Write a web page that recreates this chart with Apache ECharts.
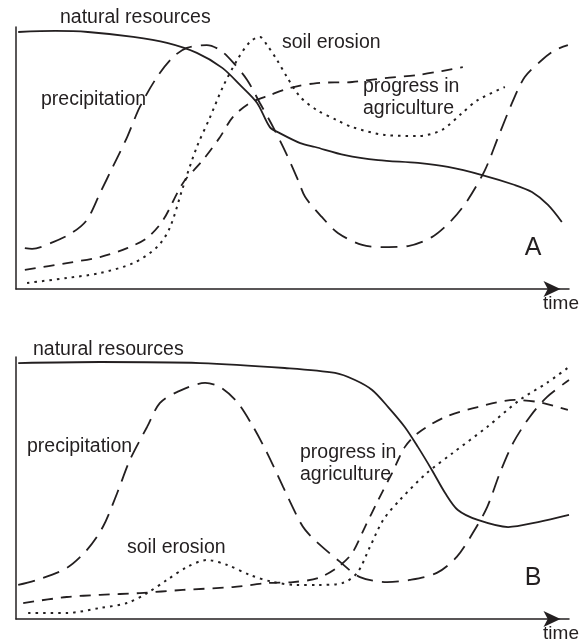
<!DOCTYPE html>
<html>
<head>
<meta charset="utf-8">
<script src="https://cdn.jsdelivr.net/npm/echarts@6/dist/echarts.min.js"></script>
<style>
html,body{margin:0;padding:0;background:#fff;}
#chart{width:585px;height:641px;}
</style>
</head>
<body>
<div id="chart"></div>
<script>
// ---- Data (time 0..100, level 0..100) ----
// Panel A
const aNaturalResources = [[0.4,98.1],[7.1,98.5],[13.0,98.1],[21.2,96.2],[27.3,93.9],[32.7,90.1],[37.3,84.4],[40.5,77.9],[43.6,71.0],[45.9,61.8],[47.7,59.5],[51.4,55.7],[54.1,54.2],[59.5,51.1],[65.5,49.2],[72.7,48.1],[78.1,46.6],[84.3,43.5],[90.2,39.7],[93.3,37.0],[96.2,32.1],[98.7,25.6]];
const aPrecipitation = [[1.6,15.6],[2.9,15.3],[6.7,17.9],[10.1,21.4],[12.8,26.3],[15.2,36.6],[17.5,46.6],[20.1,58.0],[22.4,69.5],[25.5,80.9],[28.4,88.5],[30.9,92.0],[34.5,93.1],[36.9,91.2],[39.2,86.6],[41.8,79.8],[44.1,71.0],[46.5,61.8],[49.0,51.1],[51.0,41.6],[52.3,35.1],[55.3,27.5],[58.2,21.4],[62.6,16.8],[66.7,16.0],[70.9,16.4],[75.2,19.8],[78.8,26.3],[81.7,34.0],[84.8,45.4],[87.2,58.0],[89.7,71.0],[92.0,80.9],[95.1,87.4],[97.5,91.2],[99.8,93.1]];
const aSoilErosion = [[2.0,2.3],[9.2,4.2],[15.2,6.1],[21.2,9.9],[25.5,16.0],[27.8,23.3],[30.2,38.9],[32.7,54.2],[35.1,65.6],[37.4,77.1],[40.0,87.4],[42.3,94.3],[44.1,96.2],[45.4,93.1],[47.2,87.4],[49.0,80.9],[51.4,73.3],[54.4,68.3],[58.0,64.5],[60.8,61.8],[66.7,58.8],[72.7,58.4],[77.0,60.7],[80.7,67.2],[83.5,72.1],[88.4,77.1]];
const aProgressAgriculture = [[1.6,7.3],[9.2,9.9],[15.2,12.2],[20.1,15.6],[23.7,19.5],[26.6,26.3],[30.2,40.5],[33.8,49.2],[36.9,58.0],[39.2,65.6],[42.3,71.0],[45.9,74.0],[49.5,76.7],[54.4,78.6],[60.8,79.0],[66.7,80.5],[72.7,81.7],[77.0,83.2],[80.8,84.7]];
// Panel B
const bNaturalResources = [[0.4,97.7],[15.2,98.1],[33.3,97.7],[48.6,95.8],[57.7,93.9],[61.3,91.2],[64.4,87.4],[67.3,80.9],[70.3,73.3],[72.7,65.6],[75.2,56.9],[77.6,48.1],[79.9,41.6],[83.5,37.8],[89.0,35.1],[94.4,37.0],[100,39.7]];
const bPrecipitation = [[0.4,13.0],[3.8,14.9],[9.2,19.5],[12.8,26.3],[15.7,35.1],[18.3,48.1],[20.6,60.7],[23.7,73.3],[26.0,82.4],[29.1,86.6],[34.2,90.1],[36.9,88.5],[40.0,82.8],[42.9,73.3],[45.4,63.4],[48.3,50.4],[51.0,38.5],[52.3,34.0],[54.4,29.4],[58.6,21.8],[62.2,16.0],[67.1,14.1],[71.2,14.9],[76.1,17.6],[79.7,23.7],[82.6,32.8],[85.2,42.7],[87.5,55.7],[89.9,67.2],[92.9,77.1],[96.0,84.7],[100,91.2]];
const bSoilErosion = [[2.2,2.3],[9.2,2.3],[15.2,4.2],[20.1,6.1],[23.7,9.9],[27.3,14.9],[30.9,19.8],[34.5,22.5],[38.2,20.6],[42.3,16.8],[46.5,14.1],[50.8,13.0],[54.6,13.0],[59.0,13.7],[61.7,17.6],[64.0,27.5],[66.4,37.8],[69.4,45.4],[74.3,55.7],[79.0,63.4],[85.2,73.3],[91.1,83.6],[96.0,90.1],[100,96.2]];
const bProgressAgriculture = [[1.3,6.1],[9.2,8.4],[15.2,9.2],[22.4,9.9],[30.2,11.1],[39.2,12.2],[45.4,13.7],[50.1,14.1],[54.6,15.6],[58.2,19.8],[60.8,25.2],[63.1,35.1],[65.5,45.4],[68.0,55.7],[70.3,65.6],[72.7,71.0],[77.6,77.1],[83.5,80.9],[90.2,83.6],[94.4,82.8],[99.8,79.8]];

// Labels
const seriesNames = ['natural resources','precipitation','soil erosion','progress in agriculture'];
const progressLines = ['progress in','agriculture'];
const panelLetters = ['A','B'];
const axisTitle = 'time';

const INK = '#231f20';
const FONT = '"Liberation Sans", Arial, Helvetica, sans-serif';
const styles = {
  'natural resources': {type:'solid', width:1.8},
  'precipitation': {type:[17,9], width:1.8},
  'soil erosion': {type:[2.5,5], width:2},
  'progress in agriculture': {type:[11,8], width:1.8}
};

const panels = [
  {data:[aNaturalResources,aPrecipitation,aSoilErosion,aProgressAgriculture]},
  {data:[bNaturalResources,bPrecipitation,bSoilErosion,bProgressAgriculture]}
];

const grids = [
  {left:16, top:27, width:553, height:262},
  {left:16, top:357, width:553, height:262}
];

const xAxes = grids.map((g,i)=>({
  type:'value', gridIndex:i, min:0, max:100,
  axisLine:{show:true, symbol:['none','arrow'], symbolSize:[12,17], symbolOffset:[0,-8.5],
    lineStyle:{color:INK, width:1.5}},
  axisTick:{show:false}, axisLabel:{show:false}, splitLine:{show:false}
}));
const yAxes = grids.map((g,i)=>({
  type:'value', gridIndex:i, min:0, max:100,
  axisLine:{show:true, lineStyle:{color:INK, width:1.5}},
  axisTick:{show:false}, axisLabel:{show:false}, splitLine:{show:false}
}));

const series = [];
panels.forEach((p,pi)=>{
  p.data.forEach((d,si)=>{
    const st = styles[seriesNames[si]];
    series.push({
      type:'line', name:seriesNames[si], xAxisIndex:pi, yAxisIndex:pi,
      data:d, symbol:'none', smooth:0.3, clip:false, silent:true,
      lineStyle:{color:INK, width:st.width, type:st.type, cap:'butt'}
    });
  });
});

function t(text,x,y,size,align){
  return {type:'text', x:x, y:y, silent:true,
    style:{text:text, fill:INK, font:(size||19.5)+'px '+FONT, textAlign:align||'left', textVerticalAlign:'middle'}};
}

const graphics = [
  // Panel A
  t(seriesNames[0], 60, 18),
  t(seriesNames[1], 41, 100),
  t(seriesNames[2], 282, 43),
  t(progressLines[0], 363, 87),
  t(progressLines[1], 363, 109),
  t(panelLetters[0], 533, 248, 25, 'center'),
  t(axisTitle, 561, 304, 19, 'center'),
  // Panel B
  t(seriesNames[0], 33, 350),
  t(seriesNames[1], 27, 447),
  t(seriesNames[2], 127, 548),
  t(progressLines[0], 300, 453),
  t(progressLines[1], 300, 475),
  t(panelLetters[1], 533, 578, 25, 'center'),
  t(axisTitle, 561, 634, 19, 'center')
];

const chart = echarts.init(document.getElementById('chart'), null, {renderer:'canvas'});
chart.setOption({
  animation:false,
  backgroundColor:'#ffffff',
  grid:grids,
  xAxis:xAxes,
  yAxis:yAxes,
  series:series,
  graphic:graphics
});
</script>
</body>
</html>
